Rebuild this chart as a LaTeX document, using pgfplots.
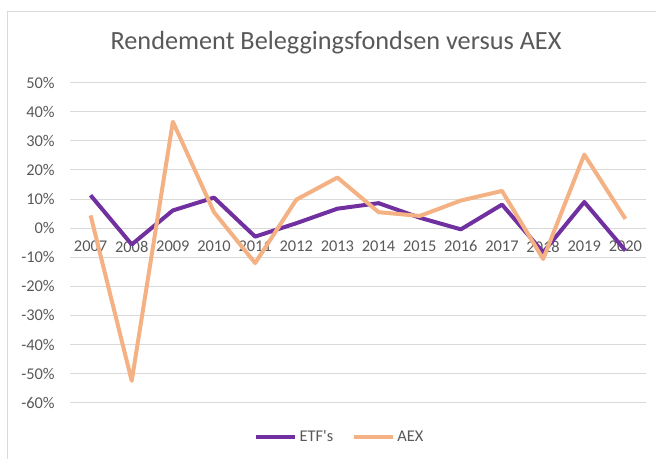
\documentclass[border=0pt]{standalone}
\usepackage{pgfplots}
\pgfplotsset{compat=1.18}
\usepackage{fontspec}
\setmainfont{Carlito}
\definecolor{etf}{HTML}{7030A0}
\definecolor{aex}{HTML}{F4B183}
\definecolor{txt}{HTML}{595959}
\definecolor{gridc}{HTML}{D9D9D9}
\begin{document}
\begin{tikzpicture}
\path[use as bounding box] (0,0) rectangle (492pt,344.25pt);
\draw[gridc, line width=0.75pt] (5.25pt,-2pt) |- (494pt,335.25pt);
\node[text=txt, font=\fontsize{19.7}{23}\selectfont] at (252pt,312pt) {Rendement Beleggingsfondsen versus AEX};
\begin{axis}[
  at={(52.5pt,42.2pt)}, anchor=south west,
  scale only axis, width=432pt, height=240pt,
  xmin=2006.5, xmax=2020.5, ymin=-60, ymax=50,
  axis x line=middle, axis y line=left,
  axis line style={draw=none},
  major tick length=0pt,
  xtick={2007,...,2020},
  xticklabels={2007,2008,2009,2010,2011,2012,2013,2014,2015,2016,2017,2018,2019,2020},
  ytick={-60,-50,...,50},
  yticklabels={-60\%,-50\%,-40\%,-30\%,-20\%,-10\%,0\%,10\%,20\%,30\%,40\%,50\%},
  ymajorgrids, grid style={gridc, line width=0.75pt},
  tick label style={text=txt, font=\fontsize{12.3}{14}\selectfont},
  xticklabel style={anchor=north, yshift=-6pt},
  yticklabel style={anchor=east, xshift=-8pt},
  legend style={at={(0.469,-0.107)}, anchor=center, draw=none, legend columns=2,
    font=\fontsize{12.3}{14}\selectfont, text=txt,
    /tikz/every even column/.append style={column sep=12pt}},
  legend image code/.code={\draw[#1, line width=3pt] (0pt,0pt) -- (29pt,0pt);},
  clip=false,
]
\addplot[etf, line width=3pt, line join=round] coordinates {
(2007,11.3) (2008,-5.6) (2009,6.1) (2010,10.5) (2011,-2.9) (2012,1.7) (2013,6.7)
(2014,8.6) (2015,3.6) (2016,-0.4) (2017,8.1) (2018,-8.3) (2019,9.0) (2020,-7.7)};
\addlegendentry{ETF\textquotesingle s}
\addplot[aex, line width=3pt, line join=round] coordinates {
(2007,4.4) (2008,-52.5) (2009,36.6) (2010,5.5) (2011,-12.0) (2012,9.8) (2013,17.4)
(2014,5.5) (2015,4.2) (2016,9.5) (2017,12.8) (2018,-10.6) (2019,25.3) (2020,3.2)};
\addlegendentry{AEX}
\end{axis}
\end{tikzpicture}
\end{document}
